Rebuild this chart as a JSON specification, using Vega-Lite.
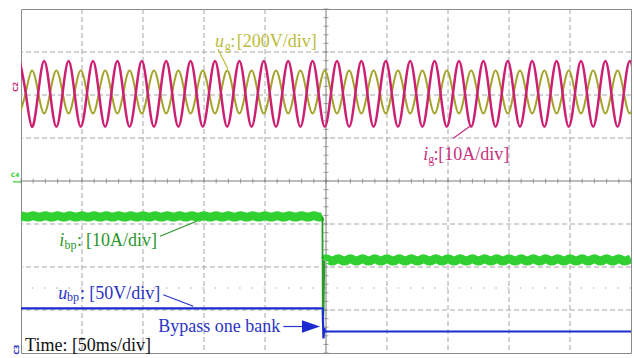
{
  "$schema": "https://vega.github.io/schema/vega-lite/v6.json",
  "width": 610,
  "height": 344,
  "autosize": "none",
  "padding": {"left": 21, "top": 9, "right": 3, "bottom": 5},
  "background": "white",
  "config": {"view": {"stroke": "#8a8a8a", "strokeWidth": 1}},
  "datasets": {
    "vgrid": [{"t": 50}, {"t": 100}, {"t": 150}, {"t": 200}, {"t": 300}, {"t": 350}, {"t": 400}, {"t": 450}],
    "hgrid": [{"v": -3}, {"v": -2}, {"v": -1}, {"v": 1}, {"v": 2}, {"v": 3}],
    "hticks": [{"t":0},{"t":10},{"t":20},{"t":30},{"t":40},{"t":50},{"t":60},{"t":70},{"t":80},{"t":90},{"t":100},{"t":110},{"t":120},{"t":130},{"t":140},{"t":150},{"t":160},{"t":170},{"t":180},{"t":190},{"t":200},{"t":210},{"t":220},{"t":230},{"t":240},{"t":250},{"t":260},{"t":270},{"t":280},{"t":290},{"t":300},{"t":310},{"t":320},{"t":330},{"t":340},{"t":350},{"t":360},{"t":370},{"t":380},{"t":390},{"t":400},{"t":410},{"t":420},{"t":430},{"t":440},{"t":450},{"t":460},{"t":470},{"t":480},{"t":490},{"t":500}],
    "vticks": [{"v":-4},{"v":-3.8},{"v":-3.6},{"v":-3.4},{"v":-3.2},{"v":-3},{"v":-2.8},{"v":-2.6},{"v":-2.4},{"v":-2.2},{"v":-2},{"v":-1.8},{"v":-1.6},{"v":-1.4},{"v":-1.2},{"v":-1},{"v":-0.8},{"v":-0.6},{"v":-0.4},{"v":-0.2},{"v":0},{"v":0.2},{"v":0.4},{"v":0.6},{"v":0.8},{"v":1},{"v":1.2},{"v":1.4},{"v":1.6},{"v":1.8},{"v":2},{"v":2.2},{"v":2.4},{"v":2.6},{"v":2.8},{"v":3},{"v":3.2},{"v":3.4},{"v":3.6},{"v":3.8},{"v":4}],
    "wave": [
      {"t":-1,"ig":2.79,"ug":1.57},{"t":4,"ig":2.02,"ug":2.07},{"t":9,"ig":1.26,"ug":2.57},{"t":14,"ig":2.02,"ug":2.07},
      {"t":19,"ig":2.79,"ug":1.57},{"t":24,"ig":2.02,"ug":2.07},{"t":29,"ig":1.26,"ug":2.57},{"t":34,"ig":2.02,"ug":2.07},
      {"t":39,"ig":2.79,"ug":1.57},{"t":44,"ig":2.02,"ug":2.07},{"t":49,"ig":1.26,"ug":2.57},{"t":54,"ig":2.02,"ug":2.07},
      {"t":59,"ig":2.79,"ug":1.57},{"t":64,"ig":2.02,"ug":2.07},{"t":69,"ig":1.26,"ug":2.57},{"t":74,"ig":2.02,"ug":2.07},
      {"t":79,"ig":2.79,"ug":1.57},{"t":84,"ig":2.02,"ug":2.07},{"t":89,"ig":1.26,"ug":2.57},{"t":94,"ig":2.02,"ug":2.07},
      {"t":99,"ig":2.79,"ug":1.57},{"t":104,"ig":2.02,"ug":2.07},{"t":109,"ig":1.26,"ug":2.57},{"t":114,"ig":2.02,"ug":2.07},
      {"t":119,"ig":2.79,"ug":1.57},{"t":124,"ig":2.02,"ug":2.07},{"t":129,"ig":1.26,"ug":2.57},{"t":134,"ig":2.02,"ug":2.07},
      {"t":139,"ig":2.79,"ug":1.57},{"t":144,"ig":2.02,"ug":2.07},{"t":149,"ig":1.26,"ug":2.57},{"t":154,"ig":2.02,"ug":2.07},
      {"t":159,"ig":2.79,"ug":1.57},{"t":164,"ig":2.02,"ug":2.07},{"t":169,"ig":1.26,"ug":2.57},{"t":174,"ig":2.02,"ug":2.07},
      {"t":179,"ig":2.79,"ug":1.57},{"t":184,"ig":2.02,"ug":2.07},{"t":189,"ig":1.26,"ug":2.57},{"t":194,"ig":2.02,"ug":2.07},
      {"t":199,"ig":2.79,"ug":1.57},{"t":204,"ig":2.02,"ug":2.07},{"t":209,"ig":1.26,"ug":2.57},{"t":214,"ig":2.02,"ug":2.07},
      {"t":219,"ig":2.79,"ug":1.57},{"t":224,"ig":2.02,"ug":2.07},{"t":229,"ig":1.26,"ug":2.57},{"t":234,"ig":2.02,"ug":2.07},
      {"t":239,"ig":2.79,"ug":1.57},{"t":244,"ig":2.02,"ug":2.07},{"t":249,"ig":1.26,"ug":2.57},{"t":254,"ig":2.02,"ug":2.07},
      {"t":259,"ig":2.79,"ug":1.57},{"t":264,"ig":2.02,"ug":2.07},{"t":269,"ig":1.26,"ug":2.57},{"t":274,"ig":2.02,"ug":2.07},
      {"t":279,"ig":2.79,"ug":1.57},{"t":284,"ig":2.02,"ug":2.07},{"t":289,"ig":1.26,"ug":2.57},{"t":294,"ig":2.02,"ug":2.07},
      {"t":299,"ig":2.79,"ug":1.57},{"t":304,"ig":2.02,"ug":2.07},{"t":309,"ig":1.26,"ug":2.57},{"t":314,"ig":2.02,"ug":2.07},
      {"t":319,"ig":2.79,"ug":1.57},{"t":324,"ig":2.02,"ug":2.07},{"t":329,"ig":1.26,"ug":2.57},{"t":334,"ig":2.02,"ug":2.07},
      {"t":339,"ig":2.79,"ug":1.57},{"t":344,"ig":2.02,"ug":2.07},{"t":349,"ig":1.26,"ug":2.57},{"t":354,"ig":2.02,"ug":2.07},
      {"t":359,"ig":2.79,"ug":1.57},{"t":364,"ig":2.02,"ug":2.07},{"t":369,"ig":1.26,"ug":2.57},{"t":374,"ig":2.02,"ug":2.07},
      {"t":379,"ig":2.79,"ug":1.57},{"t":384,"ig":2.02,"ug":2.07},{"t":389,"ig":1.26,"ug":2.57},{"t":394,"ig":2.02,"ug":2.07},
      {"t":399,"ig":2.79,"ug":1.57},{"t":404,"ig":2.02,"ug":2.07},{"t":409,"ig":1.26,"ug":2.57},{"t":414,"ig":2.02,"ug":2.07},
      {"t":419,"ig":2.79,"ug":1.57},{"t":424,"ig":2.02,"ug":2.07},{"t":429,"ig":1.26,"ug":2.57},{"t":434,"ig":2.02,"ug":2.07},
      {"t":439,"ig":2.79,"ug":1.57},{"t":444,"ig":2.02,"ug":2.07},{"t":449,"ig":1.26,"ug":2.57},{"t":454,"ig":2.02,"ug":2.07},
      {"t":459,"ig":2.79,"ug":1.57},{"t":464,"ig":2.02,"ug":2.07},{"t":469,"ig":1.26,"ug":2.57},{"t":474,"ig":2.02,"ug":2.07},
      {"t":479,"ig":2.79,"ug":1.57},{"t":484,"ig":2.02,"ug":2.07},{"t":489,"ig":1.26,"ug":2.57},{"t":494,"ig":2.02,"ug":2.07},
      {"t":499,"ig":2.79,"ug":1.57},{"t":504,"ig":2.02,"ug":2.07}
    ],
    "ibp": [
      {"t":0,"v":-0.81,"seg":"L"},{"t":5,"v":-0.84,"seg":"L"},{"t":10,"v":-0.81,"seg":"L"},{"t":15,"v":-0.84,"seg":"L"},{"t":20,"v":-0.81,"seg":"L"},{"t":25,"v":-0.84,"seg":"L"},{"t":30,"v":-0.81,"seg":"L"},{"t":35,"v":-0.84,"seg":"L"},{"t":40,"v":-0.81,"seg":"L"},{"t":45,"v":-0.84,"seg":"L"},
      {"t":50,"v":-0.81,"seg":"L"},{"t":55,"v":-0.84,"seg":"L"},{"t":60,"v":-0.81,"seg":"L"},{"t":65,"v":-0.84,"seg":"L"},{"t":70,"v":-0.81,"seg":"L"},{"t":75,"v":-0.84,"seg":"L"},{"t":80,"v":-0.81,"seg":"L"},{"t":85,"v":-0.84,"seg":"L"},{"t":90,"v":-0.81,"seg":"L"},{"t":95,"v":-0.84,"seg":"L"},
      {"t":100,"v":-0.81,"seg":"L"},{"t":105,"v":-0.84,"seg":"L"},{"t":110,"v":-0.81,"seg":"L"},{"t":115,"v":-0.84,"seg":"L"},{"t":120,"v":-0.81,"seg":"L"},{"t":125,"v":-0.84,"seg":"L"},{"t":130,"v":-0.81,"seg":"L"},{"t":135,"v":-0.84,"seg":"L"},{"t":140,"v":-0.81,"seg":"L"},{"t":145,"v":-0.84,"seg":"L"},
      {"t":150,"v":-0.81,"seg":"L"},{"t":155,"v":-0.84,"seg":"L"},{"t":160,"v":-0.81,"seg":"L"},{"t":165,"v":-0.84,"seg":"L"},{"t":170,"v":-0.81,"seg":"L"},{"t":175,"v":-0.84,"seg":"L"},{"t":180,"v":-0.81,"seg":"L"},{"t":185,"v":-0.84,"seg":"L"},{"t":190,"v":-0.81,"seg":"L"},{"t":195,"v":-0.84,"seg":"L"},
      {"t":200,"v":-0.81,"seg":"L"},{"t":205,"v":-0.84,"seg":"L"},{"t":210,"v":-0.81,"seg":"L"},{"t":215,"v":-0.84,"seg":"L"},{"t":220,"v":-0.81,"seg":"L"},{"t":225,"v":-0.84,"seg":"L"},{"t":230,"v":-0.81,"seg":"L"},{"t":235,"v":-0.84,"seg":"L"},{"t":240,"v":-0.81,"seg":"L"},{"t":245,"v":-0.84,"seg":"L"},
      {"t":247.3,"v":-0.82,"seg":"L"},
      {"t":249.2,"v":-1.84,"seg":"R"},
      {"t":250,"v":-1.81,"seg":"R"},{"t":255,"v":-1.86,"seg":"R"},{"t":260,"v":-1.81,"seg":"R"},{"t":265,"v":-1.86,"seg":"R"},{"t":270,"v":-1.81,"seg":"R"},{"t":275,"v":-1.86,"seg":"R"},{"t":280,"v":-1.81,"seg":"R"},{"t":285,"v":-1.86,"seg":"R"},{"t":290,"v":-1.81,"seg":"R"},{"t":295,"v":-1.86,"seg":"R"},
      {"t":300,"v":-1.81,"seg":"R"},{"t":305,"v":-1.86,"seg":"R"},{"t":310,"v":-1.81,"seg":"R"},{"t":315,"v":-1.86,"seg":"R"},{"t":320,"v":-1.81,"seg":"R"},{"t":325,"v":-1.86,"seg":"R"},{"t":330,"v":-1.81,"seg":"R"},{"t":335,"v":-1.86,"seg":"R"},{"t":340,"v":-1.81,"seg":"R"},{"t":345,"v":-1.86,"seg":"R"},
      {"t":350,"v":-1.81,"seg":"R"},{"t":355,"v":-1.86,"seg":"R"},{"t":360,"v":-1.81,"seg":"R"},{"t":365,"v":-1.86,"seg":"R"},{"t":370,"v":-1.81,"seg":"R"},{"t":375,"v":-1.86,"seg":"R"},{"t":380,"v":-1.81,"seg":"R"},{"t":385,"v":-1.86,"seg":"R"},{"t":390,"v":-1.81,"seg":"R"},{"t":395,"v":-1.86,"seg":"R"},
      {"t":400,"v":-1.81,"seg":"R"},{"t":405,"v":-1.86,"seg":"R"},{"t":410,"v":-1.81,"seg":"R"},{"t":415,"v":-1.86,"seg":"R"},{"t":420,"v":-1.81,"seg":"R"},{"t":425,"v":-1.86,"seg":"R"},{"t":430,"v":-1.81,"seg":"R"},{"t":435,"v":-1.86,"seg":"R"},{"t":440,"v":-1.81,"seg":"R"},{"t":445,"v":-1.86,"seg":"R"},
      {"t":450,"v":-1.81,"seg":"R"},{"t":455,"v":-1.86,"seg":"R"},{"t":460,"v":-1.81,"seg":"R"},{"t":465,"v":-1.86,"seg":"R"},{"t":470,"v":-1.81,"seg":"R"},{"t":475,"v":-1.86,"seg":"R"},{"t":480,"v":-1.81,"seg":"R"},{"t":485,"v":-1.86,"seg":"R"},{"t":490,"v":-1.81,"seg":"R"},{"t":495,"v":-1.86,"seg":"R"},
      {"t":500,"v":-1.81,"seg":"R"}
    ],
    "ibpstep": [{"t":247.1,"v":-0.83},{"t":247.4,"v":-3.28},{"t":248.0,"v":-3.05},{"t":248.6,"v":-1.84}],
    "ubp": [{"t":0,"v":-2.96},{"t":247.3,"v":-2.96},{"t":247.9,"v":-3.66},{"t":248.6,"v":-3.42},{"t":249.2,"v":-3.50},{"t":500,"v":-3.50}],
    "leaders": [
      {"t":161.5,"v":3.07,"t2":169.7,"v2":2.60,"s":"ug"},
      {"t":369.4,"v":1.30,"t2":354.4,"v2":0.993,"s":"ig"},
      {"t":113.9,"v":-1.286,"t2":144.0,"v2":-0.937,"s":"ibp"},
      {"t":116.6,"v":-2.644,"t2":141.2,"v2":-2.914,"s":"ubp"},
      {"t":215,"v":-3.384,"t2":231,"v2":-3.384,"s":"ubp"},
      {"t":-6.6,"v":-0.02,"t2":0,"v2":-0.02,"s":"c4"}
    ],
    "arrow": [{"t":237.7,"v":-3.384}],
    "labels": [
      {"t":159.0,"v":3.116,"text":"u","s":"ug","k":"it"},
      {"t":167.0,"v":3.047,"text":"g","s":"ug","k":"sub"},
      {"t":171.6,"v":3.116,"text":":","s":"ug","k":"main"},
      {"t":176.8,"v":3.116,"text":"[200V/div]","s":"ug","k":"main"},
      {"t":329.8,"v":0.488,"text":"i","s":"ig","k":"it"},
      {"t":333.9,"v":0.419,"text":"g","s":"ig","k":"sub"},
      {"t":338.1,"v":0.488,"text":":","s":"ig","k":"main"},
      {"t":342.0,"v":0.488,"text":"[10A/div]","s":"ig","k":"main"},
      {"t":31.4,"v":-1.512,"text":"i","s":"ibp","k":"it"},
      {"t":35.7,"v":-1.570,"text":"bp","s":"ibp","k":"sub"},
      {"t":45.9,"v":-1.512,"text":":","s":"ibp","k":"main"},
      {"t":53.3,"v":-1.512,"text":"[10A/div]","s":"ibp","k":"main"},
      {"t":30.6,"v":-2.733,"text":"u","s":"ubp","k":"it"},
      {"t":37.7,"v":-2.791,"text":"bp","s":"ubp","k":"sub"},
      {"t":48.4,"v":-2.733,"text":":","s":"ubp","k":"main"},
      {"t":56.0,"v":-2.733,"text":"[50V/div]","s":"ubp","k":"main"},
      {"t":112.5,"v":-3.512,"text":"Bypass one bank","s":"ubp","k":"main"},
      {"t":3.3,"v":-3.965,"text":"Time: [50ms/div]","s":"time","k":"main"},
      {"t":-3.7,"v":2.19,"text":"C2","s":"ig","k":"rot"},
      {"t":-4.9,"v":0.13,"text":"C4","s":"c4","k":"mk"},
      {"t":-3.3,"v":-3.92,"text":"C3","s":"ubp","k":"rot"}
    ]
  },
  "layer": [
    {
      "data": {"name": "vgrid"},
      "mark": {"type": "rule", "color": "#a6a6a6", "strokeWidth": 1, "strokeDash": [5, 3]},
      "encoding": {"x": {"field": "t", "type": "quantitative", "scale": {"domain": [0, 500], "nice": false}, "axis": null}}
    },
    {
      "data": {"name": "hgrid"},
      "mark": {"type": "rule", "color": "#a6a6a6", "strokeWidth": 1, "strokeDash": [5, 3]},
      "encoding": {"y": {"field": "v", "type": "quantitative", "scale": {"domain": [-4, 4], "nice": false}, "axis": null}}
    },
    {
      "data": {"values": [{"v": -2.49}]},
      "mark": {"type": "rule", "color": "#c4c4c4", "strokeWidth": 1.5, "strokeDash": [1.5, 10.7]},
      "encoding": {"y": {"field": "v", "type": "quantitative", "axis": null}}
    },
    {
      "data": {"values": [{"t": 250}]},
      "mark": {"type": "rule", "color": "#7a7a7a", "strokeWidth": 1},
      "encoding": {"x": {"field": "t", "type": "quantitative", "axis": null}}
    },
    {
      "data": {"values": [{"v": 0}]},
      "mark": {"type": "rule", "color": "#7a7a7a", "strokeWidth": 1},
      "encoding": {"y": {"field": "v", "type": "quantitative", "axis": null}}
    },
    {
      "data": {"name": "hticks"},
      "mark": {"type": "tick", "orient": "vertical", "color": "#7a7a7a", "size": 5, "thickness": 1},
      "encoding": {
        "x": {"field": "t", "type": "quantitative", "axis": null},
        "y": {"datum": 0, "type": "quantitative", "axis": null}
      }
    },
    {
      "data": {"name": "vticks"},
      "mark": {"type": "tick", "orient": "horizontal", "color": "#7a7a7a", "size": 5, "thickness": 1},
      "encoding": {
        "x": {"datum": 250, "type": "quantitative", "axis": null},
        "y": {"field": "v", "type": "quantitative", "axis": null}
      }
    },
    {
      "data": {"name": "wave"},
      "mark": {"type": "line", "color": "#a3a32c", "strokeWidth": 2, "interpolate": "natural", "clip": true},
      "encoding": {
        "x": {"field": "t", "type": "quantitative", "axis": null},
        "y": {"field": "ug", "type": "quantitative", "axis": null}
      }
    },
    {
      "data": {"name": "wave"},
      "mark": {"type": "line", "color": "#cc1f72", "strokeWidth": 2.5, "interpolate": "natural", "clip": true},
      "encoding": {
        "x": {"field": "t", "type": "quantitative", "axis": null},
        "y": {"field": "ig", "type": "quantitative", "axis": null}
      }
    },
    {
      "data": {"name": "ibp"},
      "mark": {"type": "line", "color": "#30d030", "strokeWidth": 9, "interpolate": "monotone", "strokeCap": "butt", "clip": true},
      "encoding": {
        "x": {"field": "t", "type": "quantitative", "axis": null},
        "y": {"field": "v", "type": "quantitative", "axis": null},
        "detail": {"field": "seg"}
      }
    },
    {
      "data": {"name": "ibpstep"},
      "mark": {"type": "line", "color": "#279a27", "strokeWidth": 1.8},
      "encoding": {
        "x": {"field": "t", "type": "quantitative", "axis": null},
        "y": {"field": "v", "type": "quantitative", "axis": null}
      }
    },
    {
      "data": {"name": "ubp"},
      "mark": {"type": "line", "color": "#1b2bd0", "strokeWidth": 2.2},
      "encoding": {
        "x": {"field": "t", "type": "quantitative", "axis": null},
        "y": {"field": "v", "type": "quantitative", "axis": null}
      }
    },
    {
      "data": {"name": "leaders"},
      "mark": {"type": "rule", "strokeWidth": 1.2},
      "encoding": {
        "x": {"field": "t", "type": "quantitative", "axis": null},
        "y": {"field": "v", "type": "quantitative", "axis": null},
        "x2": {"field": "t2"},
        "y2": {"field": "v2"},
        "color": {"field": "s", "type": "nominal", "legend": null,
          "scale": {"domain": ["ug", "ig", "ibp", "ubp", "time", "c4"], "range": ["#bcbc3a", "#c8307e", "#2a962a", "#2b34c4", "#111111", "#33cc33"]}}
      }
    },
    {
      "data": {"name": "arrow"},
      "mark": {"type": "point", "shape": "M -1 -0.7 L 1 0 L -1 0.7 Z", "size": 324, "filled": true, "opacity": 1, "color": "#1b2bd0"},
      "encoding": {
        "x": {"field": "t", "type": "quantitative", "axis": null},
        "y": {"field": "v", "type": "quantitative", "axis": null}
      }
    },
    {
      "data": {"name": "labels"},
      "transform": [{"filter": "datum.k == 'main'"}],
      "mark": {"type": "text", "font": "Liberation Serif", "fontSize": 18, "align": "left", "baseline": "alphabetic"},
      "encoding": {
        "x": {"field": "t", "type": "quantitative", "axis": null},
        "y": {"field": "v", "type": "quantitative", "axis": null},
        "text": {"field": "text"},
        "color": {"field": "s", "type": "nominal", "legend": null}
      }
    },
    {
      "data": {"name": "labels"},
      "transform": [{"filter": "datum.k == 'it'"}],
      "mark": {"type": "text", "font": "Liberation Serif", "fontSize": 18, "fontStyle": "italic", "align": "left", "baseline": "alphabetic"},
      "encoding": {
        "x": {"field": "t", "type": "quantitative", "axis": null},
        "y": {"field": "v", "type": "quantitative", "axis": null},
        "text": {"field": "text"},
        "color": {"field": "s", "type": "nominal", "legend": null}
      }
    },
    {
      "data": {"name": "labels"},
      "transform": [{"filter": "datum.k == 'sub'"}],
      "mark": {"type": "text", "font": "Liberation Serif", "fontSize": 12, "align": "left", "baseline": "alphabetic"},
      "encoding": {
        "x": {"field": "t", "type": "quantitative", "axis": null},
        "y": {"field": "v", "type": "quantitative", "axis": null},
        "text": {"field": "text"},
        "color": {"field": "s", "type": "nominal", "legend": null}
      }
    },
    {
      "data": {"name": "labels"},
      "transform": [{"filter": "datum.k == 'rot'"}],
      "mark": {"type": "text", "font": "DejaVu Sans", "fontSize": 7, "fontWeight": "bold", "angle": 270, "align": "center", "baseline": "middle"},
      "encoding": {
        "x": {"field": "t", "type": "quantitative", "axis": null},
        "y": {"field": "v", "type": "quantitative", "axis": null},
        "text": {"field": "text"},
        "color": {"field": "s", "type": "nominal", "legend": null}
      }
    },
    {
      "data": {"name": "labels"},
      "transform": [{"filter": "datum.k == 'mk'"}],
      "mark": {"type": "text", "font": "DejaVu Sans", "fontSize": 6, "fontWeight": "bold", "align": "center", "baseline": "middle"},
      "encoding": {
        "x": {"field": "t", "type": "quantitative", "axis": null},
        "y": {"field": "v", "type": "quantitative", "axis": null},
        "text": {"field": "text"},
        "color": {"field": "s", "type": "nominal", "legend": null}
      }
    }
  ]
}
